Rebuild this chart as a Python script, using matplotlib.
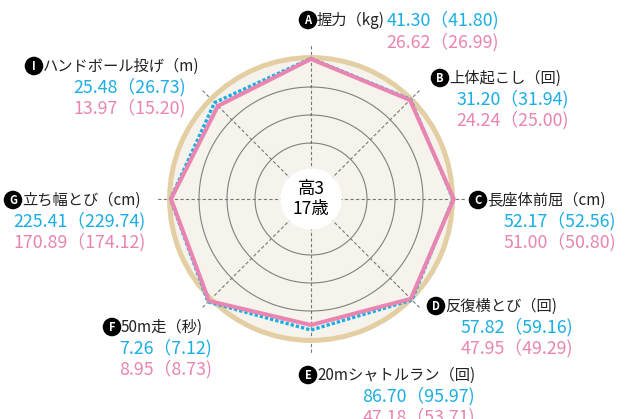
import numpy as np
import matplotlib
matplotlib.use("Agg")
import matplotlib.pyplot as plt

plt.rcParams['font.family'] = ['Noto Sans CJK JP', 'DejaVu Sans']

# 項目 (A..I, Hは無し)
letters = ['A', 'B', 'C', 'D', 'E', 'F', 'G', 'I']
items = ['握力（kg)', '上体起こし（回)', '長座体前屈（cm)', '反復横とび（回)',
         '20mシャトルラン（回)', '50m走（秒)', '立ち幅とび（cm)', 'ハンドボール投げ（m)']
boys_txt = ['41.30（41.80)', '31.20（31.94)', '52.17（52.56)', '57.82（59.16)',
            '86.70（95.97)', '7.26（7.12)', '225.41（229.74)', '25.48（26.73)']
girls_txt = ['26.62（26.99)', '24.24（25.00)', '51.00（50.80)', '47.95（49.29)',
             '47.18（53.71)', '8.95（8.73)', '170.89（174.12)', '13.97（15.20)']

# レーダーの得点
boys_score = [5.02, 5.03, 5.07, 5.1, 4.68, 5.2, 5.02, 4.87]
girls_score = [5.0, 5.0, 5.1, 5.04, 4.5, 5.15, 5.0, 4.7]

BLUE = '#1aaee5'
PINK = '#e985b0'
TAN = '#e3cfa3'
CREAM = '#f6f3ec'

W, H = 626, 419
fig = plt.figure(figsize=(W / 100, H / 100), dpi=100)

cx, cy, unit = 311, 199, 28
rmax = 5.05
R = rmax * unit
ax = fig.add_axes([(cx - R) / W, (H - cy - R) / H, 2 * R / W, 2 * R / H], projection='polar')
ax.set_theta_zero_location('N')
ax.set_theta_direction(-1)
ax.set_ylim(0, rmax)
ax.set_facecolor(CREAM)
ax.grid(False)
ax.set_xticks([])
ax.set_yticks([])
ax.spines['polar'].set_color(TAN)
ax.spines['polar'].set_linewidth(3.6)

n = len(letters)
ang = np.arange(n) * 2 * np.pi / n
circ = np.linspace(0, 2 * np.pi, 300)

for r in [1, 2, 3, 4]:
    ax.plot(circ, np.full_like(circ, r), color='#808080', lw=0.8, zorder=1)
for a in ang:
    ax.plot([a, a], [0, 5.5], color='#777777', lw=0.8, ls=(0, (3, 2)), zorder=1, clip_on=False)

ax.fill(circ, np.full_like(circ, 1.07), color='white', zorder=2)
ax.text(0, 0, '高3\n17歳', ha='center', va='center', fontsize=12.5, linespacing=1.2, zorder=6)

th = np.append(ang, ang[0])
ax.plot(th, boys_score + boys_score[:1], color=BLUE, lw=2.4, ls=(0, (1, 0.6)),
        dash_capstyle='butt', zorder=3, clip_on=False)
ax.plot(th, girls_score + girls_score[:1], color=PINK, lw=2.9, zorder=4, clip_on=False,
        solid_joinstyle='miter')

# ラベル位置 (px): 丸文字の中心, 数値の右端
label_pos = [(308, 20), (440, 78), (478, 200), (436, 306), (308, 375), (112, 327), (13, 200), (34, 66)]
value_right = [499, 569, 616, 573, 475, 212, 146, 186]
fs_lab = 11
fs_val = 12.8
lh = 21


def fx(x):
    return x / W


def fy(y):
    return 1 - y / H


for i in range(n):
    x, y = label_pos[i]
    fig.text(fx(x), fy(y), letters[i], ha='center', va='center', color='white',
             fontsize=8, fontweight='bold',
             bbox=dict(boxstyle='circle,pad=0.25', fc='black', ec='none'))
    fig.text(fx(x + 9), fy(y), items[i], ha='left', va='center', fontsize=fs_lab, color='#222222')
    if i == 0:
        fig.text(fx(value_right[i]), fy(y), boys_txt[i], ha='right', va='center', fontsize=fs_val, color=BLUE)
        fig.text(fx(value_right[i]), fy(y + lh + 1), girls_txt[i], ha='right', va='center', fontsize=fs_val, color=PINK)
    else:
        fig.text(fx(value_right[i]), fy(y + lh), boys_txt[i], ha='right', va='center', fontsize=fs_val, color=BLUE)
        fig.text(fx(value_right[i]), fy(y + 2 * lh), girls_txt[i], ha='right', va='center', fontsize=fs_val, color=PINK)

fig.savefig('out.png', dpi=100)
